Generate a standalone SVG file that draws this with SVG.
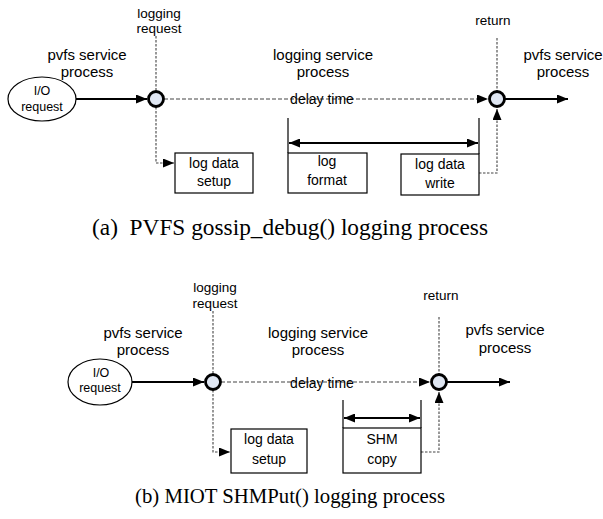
<svg xmlns="http://www.w3.org/2000/svg" width="603" height="519" viewBox="0 0 603 519">
<style>
text{font-family:"Liberation Sans",Arial,sans-serif;fill:#000;text-anchor:middle}
.lbl{font-size:15px}
.sm{font-size:13.5px}
.bx{font-size:14px}
.io{font-size:12.5px}
.cap{font-family:"Liberation Serif","Times New Roman",serif;text-anchor:start}
.solid{stroke:#000;stroke-width:2;fill:none}
.thin{stroke:#000;stroke-width:1.2;fill:none}
.dash{stroke:#444;stroke-width:1.2;stroke-dasharray:4 2;fill:none}
.dot{stroke:#444;stroke-width:1.1;stroke-dasharray:2.5 1.5;fill:none}
.node{fill:#dfe6f2;stroke:#000;stroke-width:2.8}
.box{fill:#fff;stroke:#000;stroke-width:1.2}
.ell{fill:#fff;stroke:#000;stroke-width:1.2}
</style>
<defs>
<marker id="ah" markerWidth="11" markerHeight="9" refX="11" refY="4.5" orient="auto-start-reverse" markerUnits="userSpaceOnUse">
<path d="M0,0 L11,4.5 L0,9 z" fill="#000"/>
</marker>
</defs>

<!-- ===== Part (a) ===== -->
<g id="connectors-a">
<line class="solid" x1="76" y1="99" x2="147" y2="99" marker-end="url(#ah)"/>
<line class="dash" x1="164" y1="99" x2="488" y2="99" marker-end="url(#ah)"/>
<line class="solid" x1="505" y1="99" x2="568" y2="99" marker-end="url(#ah)"/>
<line class="dot" x1="156" y1="36" x2="156" y2="91"/>
<polyline class="dot" points="156,107 156,163 174,163" marker-end="url(#ah)"/>
<line class="dot" x1="497" y1="38" x2="497" y2="91"/>
<polyline class="dot" points="479,173 497,173 497,109" marker-end="url(#ah)"/>
<line class="thin" x1="288" y1="118" x2="288" y2="153"/>
<line class="thin" x1="479" y1="118" x2="479" y2="154"/>
<line class="solid" x1="289" y1="143" x2="478" y2="143" marker-start="url(#ah)" marker-end="url(#ah)"/>
</g>

<g id="io-request-a">
<ellipse class="ell" cx="42" cy="99" rx="34" ry="22"/>
<text class="io" x="42" y="95">I/O</text>
<text class="io" x="42" y="111">request</text>
</g>
<g id="pvfs-label-a1">
<text class="lbl" x="87" y="60">pvfs service</text>
<text class="lbl" x="87" y="77">process</text>
</g>
<g id="logging-request-a">
<text class="sm" x="159" y="18">logging</text>
<text class="sm" x="159" y="33">request</text>
<circle class="node" cx="156" cy="99" r="7.5"/>
</g>
<g id="logging-service-a">
<text class="lbl" x="323" y="60">logging service</text>
<text class="lbl" x="323" y="77">process</text>
<text class="bx" x="322" y="104">delay time</text>
</g>
<g id="return-a">
<text class="sm" x="493" y="25">return</text>
<circle class="node" cx="497" cy="99" r="7.5"/>
</g>
<g id="pvfs-label-a2">
<text class="lbl" x="563" y="60">pvfs service</text>
<text class="lbl" x="563" y="77">process</text>
</g>
<g id="log-data-setup-a">
<rect class="box" x="175" y="153" width="78" height="40"/>
<text class="bx" x="214" y="168">log data</text>
<text class="bx" x="214" y="186">setup</text>
</g>
<g id="log-format-a">
<rect class="box" x="288" y="153" width="79" height="40"/>
<text class="bx" x="327" y="166">log</text>
<text class="bx" x="327" y="185">format</text>
</g>
<g id="log-data-write-a">
<rect class="box" x="401" y="154" width="78" height="41"/>
<text class="bx" x="440" y="169">log data</text>
<text class="bx" x="440" y="188">write</text>
</g>
<text class="cap" x="92" y="235" font-size="23" textLength="396" lengthAdjust="spacingAndGlyphs" xml:space="preserve">(a)  PVFS gossip_debug() logging process</text>

<!-- ===== Part (b) ===== -->
<g id="connectors-b">
<line class="solid" x1="132" y1="382" x2="204" y2="382" marker-end="url(#ah)"/>
<line class="dash" x1="221" y1="382" x2="430" y2="382" marker-end="url(#ah)"/>
<line class="solid" x1="447" y1="382" x2="510" y2="382" marker-end="url(#ah)"/>
<line class="dot" x1="213" y1="311" x2="213" y2="374"/>
<polyline class="dot" points="213,390 213,452 230,452" marker-end="url(#ah)"/>
<line class="dot" x1="439" y1="317" x2="439" y2="374"/>
<polyline class="dot" points="421,452 439,452 439,392" marker-end="url(#ah)"/>
<line class="thin" x1="343" y1="400" x2="343" y2="428"/>
<line class="thin" x1="421" y1="400" x2="421" y2="428"/>
<line class="solid" x1="344" y1="418" x2="420" y2="418" marker-start="url(#ah)" marker-end="url(#ah)"/>
</g>

<g id="io-request-b">
<ellipse class="ell" cx="100" cy="382" rx="32" ry="23"/>
<text class="io" x="101" y="377">I/O</text>
<text class="io" x="100" y="392">request</text>
</g>
<g id="pvfs-label-b1">
<text class="lbl" x="143" y="338">pvfs service</text>
<text class="lbl" x="143" y="355">process</text>
</g>
<g id="logging-request-b">
<text class="sm" x="215" y="292">logging</text>
<text class="sm" x="215" y="308">request</text>
<circle class="node" cx="213" cy="382" r="7.5"/>
</g>
<g id="logging-service-b">
<text class="lbl" x="318" y="338">logging service</text>
<text class="lbl" x="318" y="355">process</text>
<text class="bx" x="322" y="388">delay time</text>
</g>
<g id="return-b">
<text class="sm" x="441" y="300">return</text>
<circle class="node" cx="439" cy="382" r="7.5"/>
</g>
<g id="pvfs-label-b2">
<text class="lbl" x="505" y="335">pvfs service</text>
<text class="lbl" x="505" y="353">process</text>
</g>
<g id="log-data-setup-b">
<rect class="box" x="231" y="429" width="76" height="44"/>
<text class="bx" x="269" y="444">log data</text>
<text class="bx" x="269" y="464">setup</text>
</g>
<g id="shm-copy-b">
<rect class="box" x="343" y="428" width="78" height="45"/>
<text class="bx" x="382" y="444">SHM</text>
<text class="bx" x="382" y="464">copy</text>
</g>
<text class="cap" x="135" y="503" font-size="20.7" textLength="310" lengthAdjust="spacingAndGlyphs">(b) MIOT SHMPut() logging process</text>
</svg>
